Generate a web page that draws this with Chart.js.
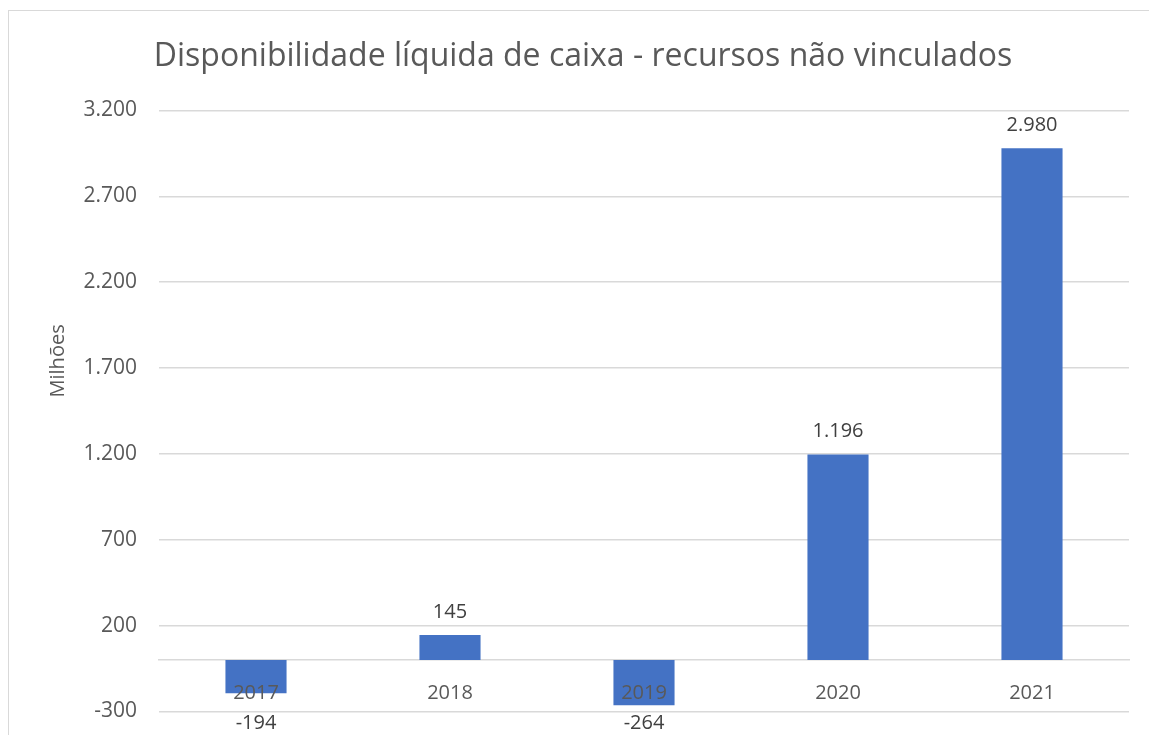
<!DOCTYPE html>
<html>
<head>
<meta charset="utf-8">
<script src="https://cdn.jsdelivr.net/npm/chart.js@4.4.0/dist/chart.umd.min.js"></script>
<style>
  html, body { margin: 0; padding: 0; background: #fff; overflow: hidden; }
  #frame { position: absolute; left: 8px; top: 10px; width: 1150px; height: 735px; border: 1px solid #d9d9d9; }
  #chart { display: block; }
</style>
</head>
<body>
<div id="frame"><canvas id="chart" width="1150" height="735"></canvas></div>
<script>
const years = ['2017', '2018', '2019', '2020', '2021']
const values = [-194, 145, -264, 1196, 2980]
const yMin = -300
const yMax = 3200
const yStep = 500

const FONT = '"Open Sans", Lato, sans-serif'

// pt-BR style thousands separator
function fmt (v) {
  const s = String(Math.abs(Math.round(v))).replace(/\B(?=(\d{3})+(?!\d))/g, '.')
  return (v < 0 ? '-' : '') + s
}

const barLabels = {
  id: 'barLabels',
  afterDatasetsDraw (chart) {
    const ctx = chart.ctx
    const yScale = chart.scales.y
    const meta = chart.getDatasetMeta(0)
    ctx.save()
    ctx.font = '20px ' + FONT
    ctx.fillStyle = '#404040'
    ctx.textAlign = 'center'
    ctx.textBaseline = 'middle'
    meta.data.forEach((bar, i) => {
      const v = values[i]
      let y
      if (v >= 0) {
        y = bar.y - 23
      } else {
        y = Math.max(bar.y + 18, yScale.getPixelForValue(yMin) + 12)
      }
      ctx.fillText(fmt(v), bar.x, y)
    })
    ctx.restore()
  }
}

const chart = new Chart('chart', {
  type: 'bar',
  data: {
    labels: years,
    datasets: [{
      data: values,
      backgroundColor: '#4472C4',
      borderWidth: 0,
      categoryPercentage: 1,
      barPercentage: 0.315
    }]
  },
  options: {
    responsive: false,
    animation: false,
    layout: { padding: { left: 28, right: 30, top: 0, bottom: 26 } },
    plugins: {
      legend: { display: false },
      tooltip: { enabled: false },
      title: {
        display: true,
        text: 'Disponibilidade líquida de caixa - recursos não vinculados',
        color: '#595959',
        font: { family: FONT, size: 32, weight: 'normal' },
        padding: { top: 27, bottom: 34 }
      }
    },
    scales: {
      x: {
        position: { y: 0 },
        grid: { display: false, drawTicks: false },
        border: { display: true, color: '#d9d9d9', width: 1.5 },
        // labels sit on top of the bars like in the original
        ticks: { z: 1, color: '#595959', font: { family: FONT, size: 20 }, padding: 21 },
        afterFit (scale) { scale.height = 40 }
      },
      y: {
        min: yMin,
        max: yMax,
        ticks: {
          stepSize: yStep,
          color: '#595959',
          font: { family: FONT, size: 21 },
          padding: 22,
          callback: (v) => fmt(v)
        },
        grid: { color: '#d9d9d9', lineWidth: 1.5, drawTicks: false },
        border: { display: false },
        title: {
          display: true,
          text: '\u2003\u2003\u2003\u2003\u2003Milhões',
          color: '#595959',
          font: { family: FONT, size: 20 },
          padding: { top: 9, bottom: 0 }
        },
        afterFit (scale) { scale.width = 122 }
      }
    }
  },
  plugins: [barLabels]
})
</script>
</body>
</html>
